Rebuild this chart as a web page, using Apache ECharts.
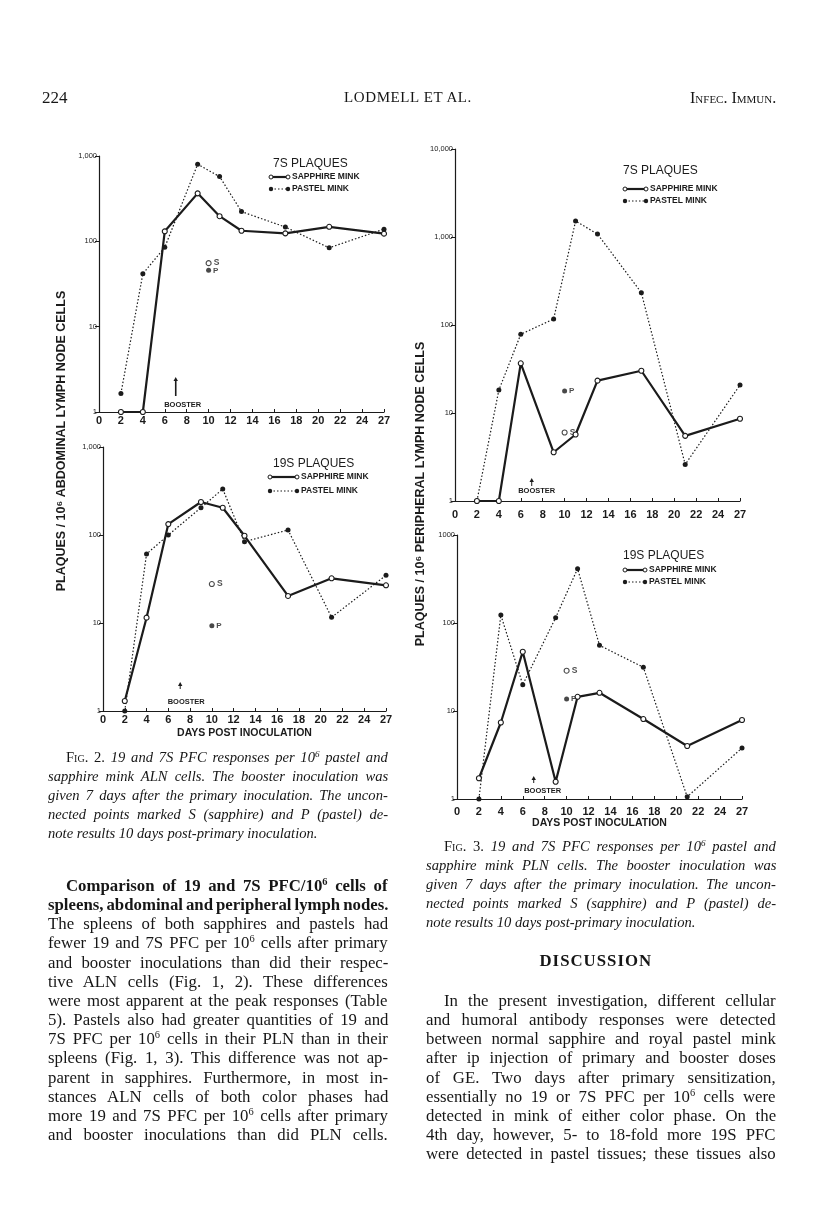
<!DOCTYPE html>
<html>
<head>
<meta charset="utf-8">
<script src="https://cdn.jsdelivr.net/npm/echarts@6/dist/echarts.min.js"></script>
<style>
html,body{margin:0;padding:0;background:#fff;}
#page{position:relative;width:816px;height:1224px;overflow:hidden;background:#fff;}
#chart{position:absolute;left:0;top:0;width:816px;height:1224px;}
.t{position:absolute;white-space:nowrap;height:19px;line-height:19px;font-family:"Liberation Serif","Times New Roman",serif;color:#161616;}
.body{font-size:16.8px;}
.cap{font-size:14.6px;font-style:italic;}
.sc{font-style:normal;font-variant:small-caps;}
.b{font-weight:bold;}
.sup{font-size:0.62em;vertical-align:0.55em;line-height:0;}
</style>
</head>
<body>
<div id="page"><div id="chart"></div></div>
<script>
// ---------------- DATA ----------------
const days = [2, 4, 6, 9, 11, 13, 17, 21, 27];
const xTickLabels = ['0','2','4','6','8','10','12','14','16','18','20','22','24','27'];
const boosterDay = 7;
const primaryDay = 10;

// Fig. 2, 7S plaques, abdominal lymph node (ALN)
const aln7S_sapphire = [1, 1, 131, 365, 197, 133, 124, 148, 123];
const aln7S_pastel   = [1.65, 41.7, 85, 800, 574, 223, 147, 84, 139];
const aln7S_primary  = {S: 55.5, P: 45.7};
// Fig. 2, 19S plaques, ALN
const aln19S_sapphire = [1.3, 11.5, 133, 237, 204, 98, 20.3, 32.2, 26.8];
const aln19S_pastel   = [1, 60.8, 100, 204, 333, 84, 114, 11.6, 34.8];
const aln19S_primary  = {S: 27.7, P: 9.3};
// Fig. 3, 7S plaques, peripheral lymph node (PLN)
const pln7S_sapphire = [1, 1, 36.7, 3.58, 5.7, 23.3, 30.2, 5.5, 8.6];
const pln7S_pastel   = [1, 18.2, 78.4, 117, 1517, 1082, 233, 2.6, 20.8];
const pln7S_primary  = {S: 6.0, P: 17.8};
// Fig. 3, 19S plaques, PLN
const pln19S_sapphire = [1.72, 7.4, 47.2, 1.57, 14.5, 16.1, 8.1, 4.0, 7.9];
const pln19S_pastel   = [1, 123, 19.9, 115, 414, 55.7, 31.4, 1.06, 3.8];
const pln19S_primary  = {S: 28.7, P: 13.7};

const yTicksA = ['1','10','100','1,000'];
const yTicksC = ['1','10','100','1,000','10,000'];
const yTicksD = ['1','10','100','1000'];

// axis break: day 27 is drawn at the place of 26
function xPos(d){ return d > 24 ? 26 : d; }

// ---------------- LAYOUT ----------------
const INK = '#1b1b1b';
const SANS = '"Liberation Sans", Arial, sans-serif';
const panels = [
  {grid:{left:99, top:156, width:285, height:256}, yMax:1000, yTicks:yTicksA,
   sap:aln7S_sapphire, pas:aln7S_pastel, prim:aln7S_primary, lm:3.5, xname:'',
   title:'7S PLAQUES', tx:273, ty:164, lx1:271, lx2:288, ly1:177, ly2:189,
   bo:{dx:0, a1:-35, a2:-16, w:1.6, tdx:7, tdy:-7}},
  {grid:{left:103, top:447, width:283, height:264}, yMax:1000, yTicks:yTicksA,
   sap:aln19S_sapphire, pas:aln19S_pastel, prim:aln19S_primary, lm:3.5, xname:'DAYS POST INOCULATION', ng:17,
   title:'19S PLAQUES', tx:273, ty:464, lx1:270, lx2:297, ly1:477, ly2:491,
   bo:{dx:1, a1:-29, a2:-22, w:1, tdx:6, tdy:-9}},
  {grid:{left:455, top:149, width:285, height:352}, yMax:10000, yTicks:yTicksC,
   sap:pln7S_sapphire, pas:pln7S_pastel, prim:pln7S_primary, lm:8, xname:'',
   title:'7S PLAQUES', tx:623, ty:171, lx1:625, lx2:646, ly1:189, ly2:201,
   bo:{dx:0, a1:-23, a2:-15, w:1, tdx:5, tdy:-10}},
  {grid:{left:457, top:535, width:285, height:264}, yMax:1000, yTicks:yTicksD,
   sap:pln19S_sapphire, pas:pln19S_pastel, prim:pln19S_primary, lm:7, xname:'DAYS POST INOCULATION', ng:19,
   title:'19S PLAQUES', tx:623, ty:556, lx1:625, lx2:645, ly1:570, ly2:582,
   bo:{dx:0, a1:-23, a2:-16, w:1, tdx:9, tdy:-8}}
];

const grids = [], xAxes = [], yAxes = [], series = [];
panels.forEach((p, i) => {
  grids.push(Object.assign({containLabel:false}, p.grid));
  xAxes.push({
    type:'value', gridIndex:i, min:0, max:26, interval:2,
    name:p.xname, nameLocation:'middle', nameGap:p.ng || 20,
    nameTextStyle:{fontFamily:SANS, fontWeight:'bold', fontSize:10.5, color:INK},
    axisLine:{onZero:false, lineStyle:{color:INK, width:1.2}},
    axisTick:{inside:true, length:3, lineStyle:{color:INK, width:1}},
    axisLabel:{margin:p.lm, fontFamily:SANS, fontWeight:'bold', fontSize:11, color:INK,
      formatter: v => xTickLabels[Math.round(v/2)]},
    splitLine:{show:false}
  });
  yAxes.push({
    type:'log', logBase:10, gridIndex:i, min:1, max:p.yMax,
    axisLine:{show:true, lineStyle:{color:INK, width:1.2}},
    axisTick:{show:true, length:4, lineStyle:{color:INK, width:1}},
    axisLabel:{margin:2, fontFamily:SANS, fontSize:7.5, color:INK,
      formatter: v => p.yTicks[Math.round(Math.log10(v))]},
    splitLine:{show:false}, minorTick:{show:false}
  });
  series.push({
    name:'Sapphire mink', type:'line', xAxisIndex:i, yAxisIndex:i,
    data: days.map((d,k)=>[xPos(d), p.sap[k]]),
    symbol:'circle', symbolSize:5, showAllSymbol:true, z:4,
    lineStyle:{color:INK, width:2.2},
    itemStyle:{color:'#fff', borderColor:INK, borderWidth:1.1}
  });
  series.push({
    name:'Pastel mink', type:'line', xAxisIndex:i, yAxisIndex:i,
    data: days.map((d,k)=>[xPos(d), p.pas[k]]),
    symbol:'circle', symbolSize:5, showAllSymbol:true, z:3,
    lineStyle:{color:INK, width:1.2, type:[1.5,2]},
    itemStyle:{color:INK}
  });
  series.push({
    name:'S primary', type:'scatter', xAxisIndex:i, yAxisIndex:i,
    data:[[primaryDay, p.prim.S]], symbol:'circle', symbolSize:5,
    itemStyle:{color:'#fff', borderColor:INK, borderWidth:1.1},
    label:{show:true, formatter:'S', position:'right', distance:2, fontFamily:SANS, fontWeight:'bold', fontSize:8.5, color:INK}
  });
  series.push({
    name:'P primary', type:'scatter', xAxisIndex:i, yAxisIndex:i,
    data:[[primaryDay, p.prim.P]], symbol:'circle', symbolSize:5,
    itemStyle:{color:INK},
    label:{show:true, formatter:'P', position:'right', distance:2, fontFamily:SANS, fontWeight:'bold', fontSize:8, color:INK}
  });
});

const chart = echarts.init(document.getElementById('chart'), null, {renderer:'canvas'});
chart.setOption({
  backgroundColor:'#fff', animation:false,
  grid:grids, xAxis:xAxes, yAxis:yAxes, series:series
});

// ---------------- ANNOTATIONS ----------------
function txt(text, x, y, size, weight, align, extra){
  return Object.assign({type:'text', silent:true, style:{text, x, y, fill:INK,
    font: (weight||'normal') + ' ' + size + 'px ' + SANS,
    fontFamily:SANS, fontSize:size, fontWeight:weight||'normal',
    textAlign:align||'left', align:align||'left', textVerticalAlign:'middle', verticalAlign:'middle'}}, extra||{});
}
const gfx = [];
panels.forEach((p, i) => {
  // legend
  gfx.push(txt(p.title, p.tx, p.ty, 12, 'normal', 'left'));
  gfx.push({type:'line', silent:true, shape:{x1:p.lx1, y1:p.ly1, x2:p.lx2, y2:p.ly1}, style:{stroke:INK, lineWidth:2.2}});
  gfx.push({type:'circle', silent:true, z:5, shape:{cx:p.lx1, cy:p.ly1, r:2}, style:{fill:'#fff', stroke:INK, lineWidth:1}});
  gfx.push({type:'circle', silent:true, z:5, shape:{cx:p.lx2, cy:p.ly1, r:2}, style:{fill:'#fff', stroke:INK, lineWidth:1}});
  gfx.push(txt('SAPPHIRE MINK', p.lx2 + 4, p.ly1, 8.5, 'bold', 'left'));
  gfx.push({type:'line', silent:true, shape:{x1:p.lx1, y1:p.ly2, x2:p.lx2, y2:p.ly2}, style:{stroke:INK, lineWidth:1.1, lineDash:[1.5,2]}});
  gfx.push({type:'circle', silent:true, shape:{cx:p.lx1, cy:p.ly2, r:2.2}, style:{fill:INK}});
  gfx.push({type:'circle', silent:true, shape:{cx:p.lx2, cy:p.ly2, r:2.2}, style:{fill:INK}});
  gfx.push(txt('PASTEL MINK', p.lx2 + 4, p.ly2, 8.5, 'bold', 'left'));
  // booster arrow
  const b = chart.convertToPixel({xAxisIndex:i, yAxisIndex:i}, [boosterDay, 1]);
  const bx = b[0] + p.bo.dx, by = b[1];
  gfx.push({type:'line', silent:true, shape:{x1:bx, y1:by + p.bo.a1 + 3, x2:bx, y2:by + p.bo.a2}, style:{stroke:INK, lineWidth:p.bo.w}});
  gfx.push({type:'polygon', silent:true, shape:{points:[[bx, by + p.bo.a1], [bx - 2.2, by + p.bo.a1 + 4], [bx + 2.2, by + p.bo.a1 + 4]]}, style:{fill:INK}});
  gfx.push(txt('BOOSTER', bx + p.bo.tdx, by + p.bo.tdy, 7.5, 'bold', 'center'));
});
// vertical axis titles
gfx.push(txt('PLAQUES / 10⁶ ABDOMINAL LYMPH NODE CELLS', 0, 0, 12.5, 'bold', 'center', {x:62, y:441, rotation:Math.PI/2}));
gfx.push(txt('PLAQUES / 10⁶ PERIPHERAL LYMPH NODE CELLS', 0, 0, 12.5, 'bold', 'center', {x:421, y:494, rotation:Math.PI/2}));
chart.setOption({graphic:{elements:gfx}});

// ---------------- PAGE TEXT ----------------
const page = document.getElementById('page');
function put(html, cls, x, yc, width, justify){
  const d = document.createElement('div');
  d.className = 't ' + cls;
  d.innerHTML = html;
  d.style.left = x + 'px';
  d.style.top = (yc - 10) + 'px';
  page.appendChild(d);
  if (justify){
    const w = d.offsetWidth;
    const n = (d.textContent.match(/ /g) || []).length;
    if (n > 0) d.style.wordSpacing = ((width - w) / n) + 'px';
  }
  return d;
}
const S6 = '10<span class="sup">6</span>';

// running head
put('224', 'body', 42, 98, 0, false).style.fontSize = '17px';
const head = put('LODMELL ET AL.', 'body', 0, 98, 0, false);
head.style.fontSize = '15px'; head.style.letterSpacing = '0.6px';
head.style.left = (408 - head.offsetWidth/2) + 'px';
const hr = put('Infec. Immun.', 'body sc', 0, 98, 0, false);
hr.style.fontSize = '16px';
hr.style.left = (776 - hr.offsetWidth) + 'px';

// captions
const cap2 = [
  '<span class="sc">Fig. 2.</span> 19 and 7S PFC responses per ' + S6 + ' pastel and',
  'sapphire mink ALN cells. The booster inoculation was',
  'given 7 days after the primary inoculation. The uncon-',
  'nected points marked S (sapphire) and P (pastel) de-',
  'note results 10 days post-primary inoculation.'
];
const cap3 = [
  '<span class="sc">Fig. 3.</span> 19 and 7S PFC responses per ' + S6 + ' pastel and',
  'sapphire mink PLN cells. The booster inoculation was',
  'given 7 days after the primary inoculation. The uncon-',
  'nected points marked S (sapphire) and P (pastel) de-',
  'note results 10 days post-primary inoculation.'
];
cap2.forEach((h, i) => {
  const last = i === cap2.length - 1;
  put(h, 'cap', i === 0 ? 66 : 48, 758 + i*19, i === 0 ? 322 : 340, !last);
});
cap3.forEach((h, i) => {
  const last = i === cap3.length - 1;
  put(h, 'cap', i === 0 ? 444 : 426, 847 + i*19, i === 0 ? 332 : 350, !last);
});

// body text
const leftCol = [
  '<b>Comparison of 19 and 7S PFC/' + S6 + ' cells of</b>',
  '<b>spleens, abdominal and peripheral lymph nodes.</b>',
  'The spleens of both sapphires and pastels had',
  'fewer 19 and 7S PFC per ' + S6 + ' cells after primary',
  'and booster inoculations than did their respec-',
  'tive ALN cells (Fig. 1, 2). These differences',
  'were most apparent at the peak responses (Table',
  '5). Pastels also had greater quantities of 19 and',
  '7S PFC per ' + S6 + ' cells in their PLN than in their',
  'spleens (Fig. 1, 3). This difference was not ap-',
  'parent in sapphires. Furthermore, in most in-',
  'stances ALN cells of both color phases had',
  'more 19 and 7S PFC per ' + S6 + ' cells after primary',
  'and booster inoculations than did PLN cells.'
];
leftCol.forEach((h, i) => {
  put(h, 'body', i === 0 ? 66 : 48, 886 + i*19.15, i === 0 ? 322 : 340, true);
});
const disc = put('<b>DISCUSSION</b>', 'body', 0, 961, 0, false);
disc.style.letterSpacing = '1px';
disc.style.left = (596 - disc.offsetWidth/2) + 'px';
const rightCol = [
  'In the present investigation, different cellular',
  'and humoral antibody responses were detected',
  'between normal sapphire and royal pastel mink',
  'after ip injection of primary and booster doses',
  'of GE. Two days after primary sensitization,',
  'essentially no 19 or 7S PFC per ' + S6 + ' cells were',
  'detected in mink of either color phase. On the',
  '4th day, however, 5- to 18-fold more 19S PFC',
  'were detected in pastel tissues; these tissues also'
];
rightCol.forEach((h, i) => {
  put(h, 'body', i === 0 ? 444 : 426, 1001 + i*19.15, i === 0 ? 332 : 350, true);
});
</script>
</body>
</html>
